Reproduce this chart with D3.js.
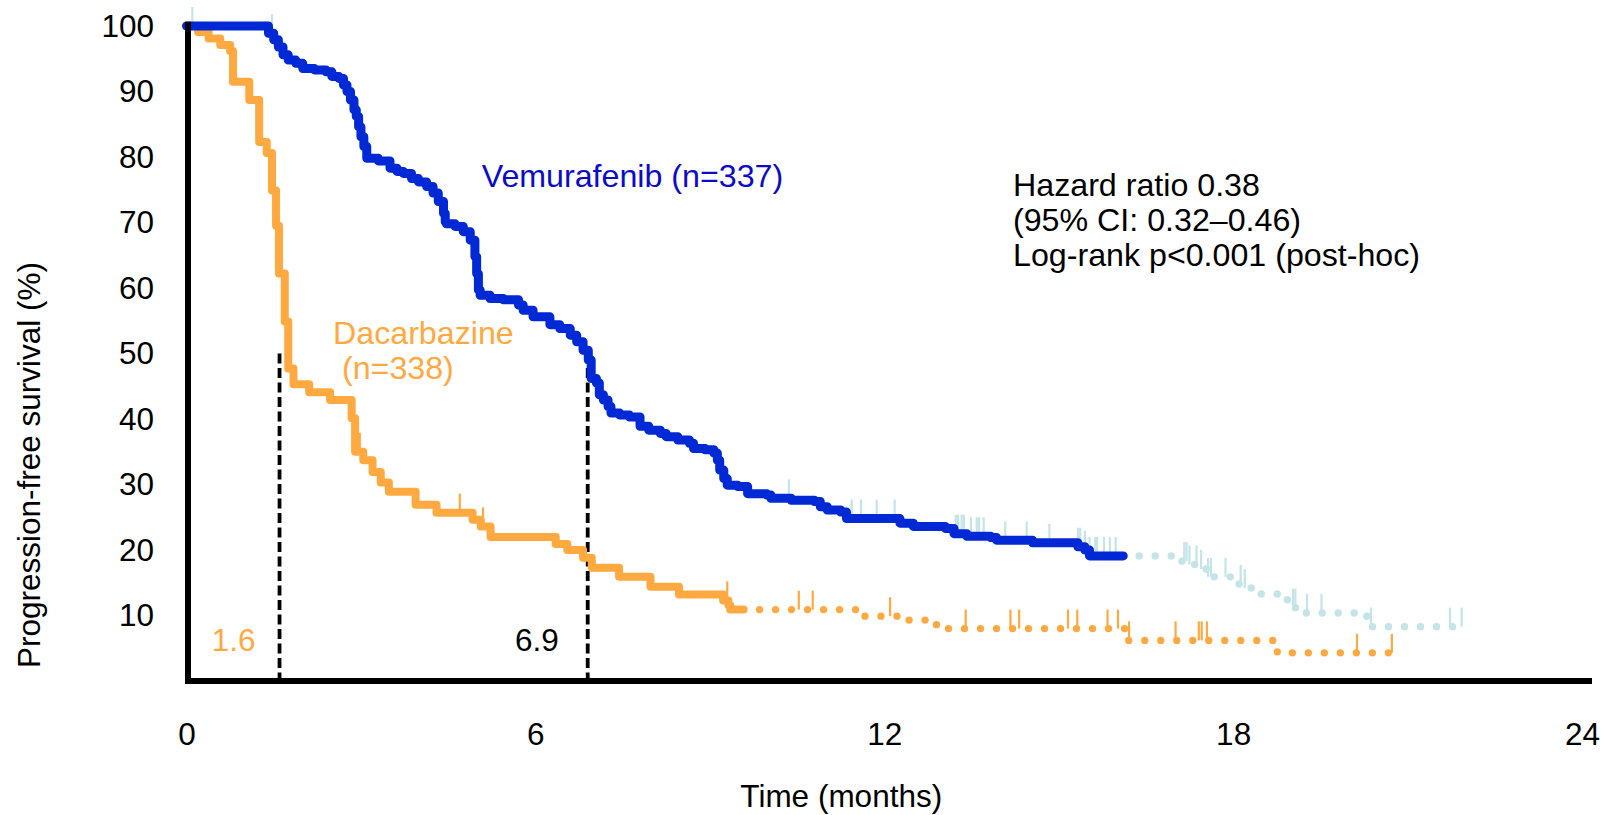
<!DOCTYPE html>
<html>
<head>
<meta charset="utf-8">
<script src="https://cdn.jsdelivr.net/npm/d3@7"></script>
<style>
  html, body { margin: 0; padding: 0; background: #fff; }
  svg { display: block; }
  text { font-family: "Liberation Sans", Arial, Helvetica, sans-serif; }
</style>
</head>
<body>
<svg id="chart" width="1614" height="815"></svg>
<script>
// Axis ticks
const xTicks = [0, 6, 12, 18, 24];
const yTicks = [10, 20, 30, 40, 50, 60, 70, 80, 90, 100];

// Vemurafenib: Kaplan-Meier steps [month, PFS %] (value after each drop)
const vemSteps = [
  [0, 100], [1.41, 98.9], [1.50, 97.9], [1.58, 96.8], [1.66, 95.6], [1.75, 94.8],
  [1.88, 94.3], [2.00, 93.5], [2.20, 93.3], [2.40, 93.0], [2.50, 92.3], [2.62, 92.0],
  [2.70, 91.0], [2.76, 90.0], [2.82, 88.7], [2.88, 87.2], [2.92, 86.2], [2.96, 84.6],
  [3.00, 83.1], [3.05, 81.6], [3.10, 79.8], [3.30, 79.4], [3.50, 78.3], [3.62, 77.8],
  [3.73, 77.5], [3.87, 76.7], [3.99, 76.2], [4.13, 75.5], [4.24, 74.5], [4.33, 73.2],
  [4.42, 71.4], [4.45, 70.1], [4.47, 69.8], [4.62, 69.4], [4.76, 68.6], [4.88, 67.3],
  [4.96, 64.8], [4.99, 62.2], [5.02, 59.7], [5.05, 58.9], [5.22, 58.4], [5.45, 58.2],
  [5.71, 57.4], [5.79, 56.6], [5.96, 55.6], [6.25, 54.4], [6.42, 53.8], [6.60, 52.8],
  [6.71, 51.8], [6.82, 50.5], [6.91, 49.0], [6.96, 46.2], [7.05, 45.5], [7.10, 43.7],
  [7.17, 42.9], [7.25, 41.9], [7.30, 40.9], [7.45, 40.6], [7.62, 40.3], [7.80, 38.9],
  [7.95, 38.3], [8.15, 37.8], [8.25, 37.3], [8.45, 36.8], [8.65, 36.3], [8.72, 35.5],
  [8.92, 35.3], [9.07, 34.8], [9.13, 33.7], [9.17, 32.2], [9.24, 30.9], [9.30, 29.9],
  [9.48, 29.7], [9.65, 28.6], [9.98, 28.4], [10.05, 27.9], [10.40, 27.6], [10.80, 27.4],
  [10.90, 26.6], [11.02, 26.1], [11.25, 25.8], [11.35, 24.8], [12.27, 24.1], [12.50, 23.6],
  [13.05, 23.3], [13.20, 22.5], [13.42, 22.1], [13.83, 21.9], [13.93, 21.5], [14.55, 21.1],
  [15.33, 20.5], [15.45, 20.0], [15.53, 19.1],
  [17.01, 18.3], [17.22, 17.8], [17.42, 17.1], [17.57, 15.9], [18.00, 14.8], [18.20, 14.2],
  [18.37, 13.3], [18.82, 12.4], [18.97, 11.2], [19.15, 10.4], [20.20, 10.0], [20.30, 8.3]
];
const vemDottedFrom = 16.11;   // few patients at risk beyond this point
const vemEnd = 21.94;
const vemCensor = [
  0.10, 1.47, 10.36, 11.44, 11.60, 11.87, 12.18, 13.23, 13.27, 13.33, 13.37, 13.49,
  13.59, 13.63, 13.71, 14.08, 14.45, 14.84, 15.33, 15.37, 15.45, 15.53, 15.63, 15.66,
  15.78, 15.88, 15.98, 17.16, 17.20, 17.25, 17.37, 17.45, 17.57, 17.62, 17.87, 18.13,
  18.20, 19.03, 19.07, 19.27, 19.52, 20.37, 21.73, 21.93
];

// Dacarbazine: Kaplan-Meier steps [month, PFS %]
const dacSteps = [
  [0, 100], [0.20, 99.1], [0.38, 98.1], [0.58, 97.1], [0.75, 96.2], [0.80, 91.5],
  [1.08, 88.7], [1.25, 82.3], [1.38, 80.6], [1.47, 74.9], [1.54, 69.5], [1.59, 62.2],
  [1.69, 54.9], [1.75, 47.7], [1.84, 45.3], [2.11, 44.1], [2.47, 42.9], [2.84, 40.1],
  [2.90, 35.0], [3.04, 33.7], [3.20, 31.9], [3.34, 30.3], [3.48, 28.9], [3.94, 26.9],
  [4.30, 25.7], [4.92, 24.6], [5.06, 23.6], [5.23, 22.0], [6.35, 20.9], [6.55, 20.0],
  [6.82, 18.8], [6.97, 17.3], [7.44, 15.9], [7.98, 14.4], [8.47, 13.2], [9.23, 12.3],
  [9.32, 11.6], [9.35, 10.9],
  [11.55, 9.9], [12.30, 9.3], [12.80, 8.6], [13.00, 8.0], [16.18, 6.2], [18.76, 4.3]
];
const dacDottedFrom = 9.58;
const dacEnd = 20.73;
const dacCensor = [
  2.98, 4.70, 5.10, 9.30, 10.53, 10.77, 12.10, 13.40, 14.17, 14.32, 15.16, 15.32,
  15.84, 16.02, 16.21, 17.01, 17.41, 17.46, 17.55, 20.13, 20.73
];

// Median PFS (months): dacarbazine, vemurafenib
const medianDac = 1.6;
const medianVem = 6.9;
const medianLevel = 50;

const statsLines = ["Hazard ratio 0.38", "(95% CI: 0.32\u20130.46)", "Log-rank p<0.001 (post-hoc)"];

// ---------------------------------------------------------------------------
const BLUE = "#0029d6";
const BLUE_TEXT = "#0b0bc8";
const LIGHT = "#c4e4e8";
const ORANGE = "#ffa940";
const FS = 31.5;
const FS_NOTE = 32.2;

const svg = d3.select("#chart");
const x = d3.scaleLinear().domain([0, 24]).range([186.5, 1582]);
const y = d3.scaleLinear().domain([0, 100]).range([681, 26]);

// survival value of a step function at time t
function survAt(steps, t) {
  const i = d3.bisectRight(steps.map(d => d[0]), t) - 1;
  return steps[Math.max(0, i)][1];
}

const stepLine = d3.line().x(d => x(d[0])).y(d => y(d[1])).curve(d3.curveStepAfter);

function solidPart(steps, cut) {
  const pts = steps.filter(d => d[0] <= cut);
  pts.push([cut, survAt(steps, cut)]);
  return pts;
}
function dottedPart(steps, cut, end) {
  const pts = [[cut, survAt(steps, cut)]].concat(steps.filter(d => d[0] > cut && d[0] <= end));
  pts.push([end, survAt(steps, end)]);
  return pts;
}

// Median reference lines
const medG = svg.append("g");
[medianDac, medianVem].forEach(m => {
  medG.append("line")
    .attr("x1", x(m)).attr("x2", x(m))
    .attr("y1", y(medianLevel)).attr("y2", y(0))
    .attr("stroke", "#000").attr("stroke-width", 3.8)
    .attr("stroke-dasharray", "10,4.5");
});

// Censoring marks
function drawCensor(times, steps, color) {
  svg.append("g").selectAll("line").data(times).join("line")
    .attr("x1", d => x(d)).attr("x2", d => x(d))
    .attr("y1", d => y(survAt(steps, d)))
    .attr("y2", d => y(survAt(steps, d)) - 19)
    .attr("stroke", color).attr("stroke-width", 2.2);
}
drawCensor(vemCensor, vemSteps, LIGHT);
drawCensor(dacCensor, dacSteps, ORANGE);

// Dotted tails
function drawDotted(pts, color) {
  svg.append("path").attr("d", stepLine(pts))
    .attr("fill", "none").attr("stroke", color).attr("stroke-width", 7.4)
    .attr("stroke-linecap", "round").attr("stroke-dasharray", "0,16");
}
drawDotted(dottedPart(dacSteps, dacDottedFrom, dacEnd), ORANGE);
drawDotted(dottedPart(vemSteps, vemDottedFrom, vemEnd), LIGHT);

// Solid curves
svg.append("path").attr("d", stepLine(solidPart(dacSteps, dacDottedFrom)))
  .attr("fill", "none").attr("stroke", ORANGE).attr("stroke-width", 8)
  .attr("stroke-linejoin", "round").attr("stroke-linecap", "round");
svg.append("path").attr("d", stepLine(solidPart(vemSteps, vemDottedFrom)))
  .attr("fill", "none").attr("stroke", BLUE).attr("stroke-width", 9)
  .attr("stroke-linejoin", "round").attr("stroke-linecap", "round");

// Axes lines
svg.append("line")
  .attr("x1", x(0) + 1.5).attr("x2", x(0) + 1.5)
  .attr("y1", y(100) - 4.3).attr("y2", y(0) + 3)
  .attr("stroke", "#000").attr("stroke-width", 6);
svg.append("line")
  .attr("x1", x(0) - 1.5).attr("x2", x(24) + 10)
  .attr("y1", y(0)).attr("y2", y(0))
  .attr("stroke", "#000").attr("stroke-width", 6);

// Tick labels
const yAxis = svg.append("g").attr("transform", `translate(${x(0) + 1.5},0)`)
  .call(d3.axisLeft(y).tickValues(yTicks).tickSize(0).tickPadding(34));
const xAxis = svg.append("g").attr("transform", `translate(0,${y(0)})`)
  .call(d3.axisBottom(x).tickValues(xTicks).tickSize(0).tickPadding(41.5));
[yAxis, xAxis].forEach(g => {
  g.select(".domain").remove();
  g.selectAll("text").attr("font-size", FS).attr("fill", "#000")
    .attr("font-family", '"Liberation Sans", Arial, sans-serif');
});

// Axis titles
svg.append("text").attr("x", (x(0) + x(24)) / 2 - 43).attr("y", 807)
  .attr("text-anchor", "middle").attr("font-size", FS).text("Time (months)");
svg.append("text").attr("transform", "translate(40,465) rotate(-90)")
  .attr("text-anchor", "middle").attr("font-size", FS).text("Progression-free survival (%)");

// Arm labels
svg.append("text").attr("x", 481.7).attr("y", 187.3).attr("font-size", FS_NOTE)
  .attr("fill", BLUE_TEXT).text("Vemurafenib (n=337)");
const dacLabel = svg.append("text").attr("font-size", FS_NOTE).attr("fill", ORANGE);
dacLabel.append("tspan").attr("x", 333).attr("y", 344).text("Dacarbazine");
dacLabel.append("tspan").attr("x", 342).attr("y", 379).text("(n=338)");

// Median values
svg.append("text").attr("x", 211.7).attr("y", 650.7).attr("font-size", FS)
  .attr("fill", ORANGE).text(String(medianDac));
svg.append("text").attr("x", 515).attr("y", 650.7).attr("font-size", FS)
  .attr("fill", "#000").text(String(medianVem));

// Statistics block
svg.append("text").attr("font-size", FS_NOTE).attr("fill", "#000")
  .selectAll("tspan").data(statsLines).join("tspan")
  .attr("x", 1013).attr("y", (d, i) => 196 + i * 35).text(d => d);
</script>
</body>
</html>
